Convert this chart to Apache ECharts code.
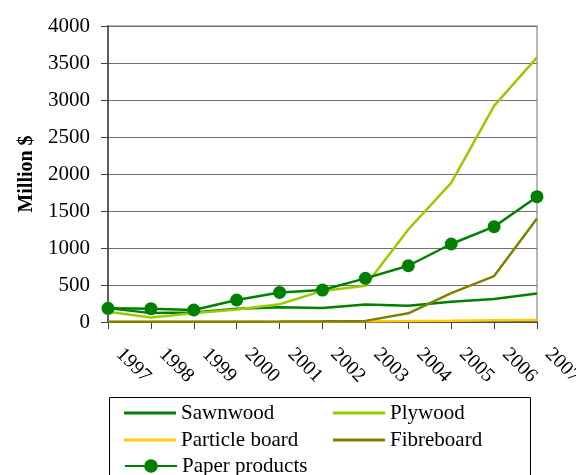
<!DOCTYPE html>
<html><head><meta charset="utf-8">
<script src="https://cdn.jsdelivr.net/npm/echarts@6/dist/echarts.min.js"></script>
<style>html,body{margin:0;padding:0;background:#fff}#c{width:576px;height:475px}</style>
</head><body><div id="c"></div>
<script>
var years = ['1997','1998','1999','2000','2001','2002','2003','2004','2005','2006','2007'];
var sawnwood = [189, 120, 130, 180, 200, 190, 235, 218, 275, 310, 385];
var plywood = [140, 60, 118, 170, 240, 420, 490, 1250, 1880, 2920, 3575];
var particleBoard = [1, 1, 2, 3, 4, 6, 9, 12, 16, 22, 28];
var fibreboard = [3, 3, 4, 5, 7, 10, 15, 117, 390, 620, 1400];
var paperProducts = [185, 180, 162, 297, 400, 432, 590, 760, 1054, 1288, 1693];
var yTicks = [0, 500, 1000, 1500, 2000, 2500, 3000, 3500, 4000];

var FONT = 'Liberation Serif';
function line(name, data, color, marker) {
  return {
    name: name, type: 'line', data: data,
    symbol: marker ? 'circle' : 'none', symbolSize: 13, showSymbol: !!marker,
    lineStyle: {color: color, width: 2.5}, itemStyle: {color: color},
    animation: false
  };
}
function leg(name, left, top, marker) {
  var o = {
    data: [name], orient: 'horizontal', left: left, top: top, padding: 0,
    itemWidth: 52, itemHeight: marker ? 17 : 3,
    textStyle: {fontSize: 21, lineHeight: 22, fontFamily: FONT, color: '#000'}
  };
  if (!marker) o.icon = 'rect';
  return o;
}
var chart = echarts.init(document.getElementById('c'));
chart.setOption({
  backgroundColor: '#fff',
  textStyle: {fontFamily: FONT, color: '#000'},
  grid: {left: 108, right: 39, top: 26, bottom: 153, show: true, borderColor: '#a0a0a0', borderWidth: 1.5,
         outerBoundsMode: 'none', containLabel: false},
  xAxis: {
    type: 'category', data: years, boundaryGap: false,
    axisLine: {lineStyle: {color: '#404040', width: 1.5}},
    axisTick: {show: true, length: 7, lineStyle: {color: '#404040'}},
    axisLabel: {rotate: -45, margin: 32, fontSize: 20, fontFamily: FONT, color: '#000', interval: 0,
                verticalAlign: 'bottom', padding: [0, 0, 0, 6], hideOverlap: false},
    splitLine: {show: false}
  },
  yAxis: {
    type: 'value', min: yTicks[0], max: yTicks[yTicks.length - 1], interval: 500,
    name: 'Million $', nameLocation: 'middle', nameGap: 69, nameRotate: 90,
    nameTextStyle: {fontSize: 20, fontWeight: 'bold', fontFamily: FONT, color: '#000'},
    axisLine: {show: true, lineStyle: {color: '#404040', width: 1.5}},
    axisTick: {show: true, length: 7, lineStyle: {color: '#404040'}},
    axisLabel: {margin: 18, fontSize: 21, fontFamily: FONT, color: '#000', formatter: function (v) { return String(v); }},
    splitLine: {show: true, lineStyle: {color: '#707070', width: 1.2}}
  },
  legend: [
    leg('Sawnwood', 124, 402, false),
    leg('Plywood', 333, 402, false),
    leg('Particle board', 124, 429, false),
    leg('Fibreboard', 333, 429, false),
    leg('Paper products', 124, 455, true)
  ],
  graphic: [{type: 'rect', shape: {x: 109.5, y: 397.5, width: 421, height: 100}, style: {fill: 'none', stroke: '#000', lineWidth: 1}, silent: true}],
  series: [
    line('Sawnwood', sawnwood, '#008000', false),
    line('Plywood', plywood, '#99cc00', false),
    line('Particle board', particleBoard, '#ffcc00', false),
    line('Fibreboard', fibreboard, '#808000', false),
    line('Paper products', paperProducts, '#008000', true)
  ]
});
</script></body></html>
